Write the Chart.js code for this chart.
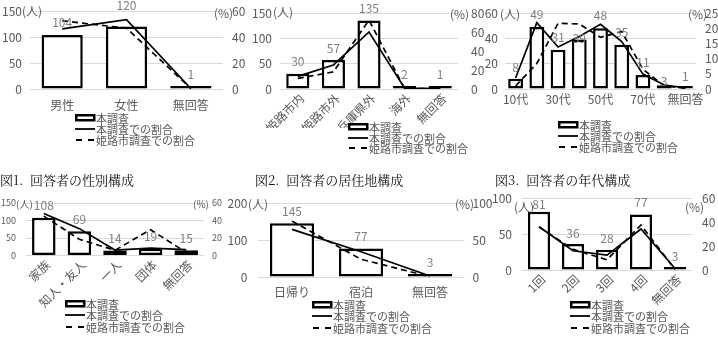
<!DOCTYPE html>
<html lang="ja">
<head>
<meta charset="utf-8">
<script src="https://cdn.jsdelivr.net/npm/chart.js@4.4.1/dist/chart.umd.min.js"></script>
<style>
  html, body { margin: 0; padding: 0; background: #fff; }
  body { width: 718px; height: 339px; position: relative; overflow: hidden;
         font-family: "Noto Sans CJK JP", sans-serif; color: #595959; }
  .box { position: absolute; }
  .box canvas { display: block; }
  .unit { position: absolute; color: #595959; white-space: nowrap; transform: translateY(-50%); }
  .cap { position: absolute; font-family: "Noto Serif CJK JP", "Noto Sans CJK JP", serif;
         font-size: 13px; line-height: 16px; color: #111; white-space: pre; }
  .legend { position: absolute; font-size: 11px; color: #595959; }
  .legend div { display: flex; align-items: center; white-space: nowrap; }
  .legend svg { flex: none; }
</style>
</head>
<body>
<script>
// ─── データ ─────────────────────────────────────────
// 図1 性別
const sexLabels  = ['男性', '女性', '無回答'];
const sexCounts  = [104, 120, 1];
const sexShare   = [46.2, 53.3, 0.4];
const sexCity    = [52.5, 46.8, 0.4];

// 居住地
const homeLabels = ['姫路市内', '姫路市外', '兵庫県外', '海外', '無回答'];
const homeCounts = [30, 57, 135, 2, 1];
const homeShare  = [13.3, 25.3, 60.0, 0.9, 0.4];
const homeCity   = [11.2, 18.0, 72.5, 0.5, 0.3];

// 年代
const ageLabels  = ['10代', '20代', '30代', '40代', '50代', '60代', '70代', '80代', '無回答'];
const ageCounts  = [8, 49, 31, 39, 48, 35, 11, 3, 1];
const ageShare   = [3.6, 21.8, 13.8, 17.3, 21.3, 15.6, 4.9, 1.3, 0.4];
const ageCity    = [1.0, 8.4, 21.6, 21.4, 17.0, 18.9, 6.5, 1.0, 0.3];

// 同行者
const compLabels = ['家族', '知人・友人', '一人', '団体', '無回答'];
const compCounts = [108, 69, 14, 19, 15];
const compShare  = [48.0, 30.7, 6.2, 8.4, 6.7];
const compCity   = [45.0, 18.5, 6.0, 29.5, 3.5];

// 日帰り・宿泊
const stayLabels = ['日帰り', '宿泊', '無回答'];
const stayCounts = [145, 77, 3];
const stayShare  = [64.4, 34.2, 1.3];
const stayCity   = [75.5, 24.0, 0.5];

// 来訪回数
const visitLabels = ['1回', '2回', '3回', '4回', '無回答'];
const visitCounts = [81, 36, 28, 77, 3];
const visitShare  = [36.0, 16.0, 12.4, 34.2, 1.3];
const visitCity   = [36.0, 17.2, 8.5, 37.5, 0.5];

const captions = [
  { text: '図1.  回答者の性別構成',   x: 0,   y: 172 },
  { text: '図2.  回答者の居住地構成', x: 255, y: 172 },
  { text: '図3.  回答者の年代構成',   x: 495, y: 172 },
];

const FONT = '"Noto Sans CJK JP", sans-serif';
const TEXT = '#595959';
const CLEAR = 'rgba(0,0,0,0)';
Chart.defaults.font.family = FONT;

// 棒の上に人数を描く (lift: 棒の上端からの距離、既定 12px)
const valueLabels = {
  id: 'valueLabels',
  afterDatasetsDraw(chart, args, opts) {
    const ctx  = chart.ctx;
    const meta = chart.getDatasetMeta(2);
    const vals = chart.data.datasets[2].data;
    const lift = opts.lift || [];
    ctx.save();
    ctx.font = '12px ' + FONT;
    ctx.fillStyle = '#7f7f7f';
    ctx.textAlign = 'center';
    ctx.textBaseline = 'middle';
    meta.data.forEach((bar, i) => ctx.fillText(String(vals[i]), bar.x, bar.y - (lift[i] ?? 12)));
    ctx.restore();
  },
};

function addLegend(x, y, rowH) {
  const el = document.createElement('div');
  el.className = 'legend';
  el.style.left = x + 'px';
  el.style.top = y + 'px';
  const rows = [
    ['<rect x="1.25" y="1.25" width="18" height="5" fill="#fff" stroke="#000" stroke-width="2.5"/>', '本調査'],
    ['<line x1="0" y1="4" x2="20" y2="4" stroke="#000" stroke-width="1.8"/>', '本調査での割合'],
    ['<line x1="1" y1="4" x2="20" y2="4" stroke="#000" stroke-width="1.8" stroke-dasharray="6,6"/>', '姫路市調査での割合'],
  ];
  el.innerHTML = rows.map(([icon, txt]) =>
    `<div style="height:${rowH}px"><svg width="21" height="8">${icon}</svg>${txt}</div>`
  ).join('');
  document.body.appendChild(el);
}

function addUnit(text, x, y, size) {
  const s = document.createElement('span');
  s.className = 'unit';
  s.textContent = text;
  s.style.left = x + 'px';
  s.style.top = y + 'px';
  s.style.fontSize = size + 'px';
  document.body.appendChild(s);
}

function makePanel(p) {
  const box = document.createElement('div');
  box.className = 'box';
  box.style.left = p.box[0] + 'px';
  box.style.top  = p.box[1] + 'px';
  const canvas = document.createElement('canvas');
  canvas.width  = p.box[2];
  canvas.height = p.box[3];
  box.appendChild(canvas);
  document.body.appendChild(box);

  const tickFont = { size: p.tickSize || 12 };
  const lineBase = { type: 'line', yAxisID: 'y1', borderColor: '#000', borderWidth: 1.7,
                     pointRadius: 0, tension: 0, fill: false, order: 1 };

  new Chart(canvas, {
    type: 'bar',
    data: {
      labels: p.labels,
      datasets: [
        { ...lineBase, label: '本調査での割合', data: p.share },
        { ...lineBase, label: '姫路市調査での割合', data: p.city, borderDash: [6, 4] },
        {
          type: 'bar', label: '本調査', data: p.counts, yAxisID: 'y',
          backgroundColor: '#fff', borderColor: '#000', borderWidth: 2.5,
          borderSkipped: false, minBarLength: 3,
          categoryPercentage: 1, barPercentage: p.barPct, order: 2,
        },
      ],
    },
    options: {
      responsive: false,
      animation: false,
      events: [],
      layout: { padding: { top: p.pad, left: 0, right: 0, bottom: 0 } },
      plugins: {
        legend: { display: false },
        tooltip: { enabled: false },
        valueLabels: { lift: p.lift },
      },
      scales: {
        x: {
          grid: { display: false, drawTicks: false },
          border: { display: false },
          ticks: {
            color: TEXT, font: { size: p.catSize || 12 }, padding: p.xPad,
            labelOffset: p.rot ? 4 : 0,
            autoSkip: false, maxRotation: p.rot, minRotation: p.rot,
            callback: function (v, i) {
              if (p.every && i % p.every) return '';
              return this.getLabelForValue(v);
            },
          },
          afterFit: s => { s.height = p.xh; },
        },
        // 目盛ラベルとの間隔は tickLength で取る (padding は描画領域を押し下げるため 0)
        y: {
          position: 'left', min: 0, max: p.yMax,
          ticks: { stepSize: p.yStep, padding: 0, color: TEXT, font: tickFont, autoSkip: false },
          grid: { color: '#d9d9d9', lineWidth: 1, drawTicks: true, tickLength: p.lPad, tickColor: CLEAR },
          border: { display: false },
          afterFit: s => { s.width = p.la; },
        },
        y1: {
          position: 'right', min: 0, max: p.rMax,
          ticks: { stepSize: p.rStep, padding: 0, color: TEXT, font: tickFont, autoSkip: false },
          grid: { color: CLEAR, drawOnChartArea: false, drawTicks: true, tickLength: p.rPad, tickColor: CLEAR },
          border: { display: false },
          afterFit: s => { s.width = p.ra; },
        },
      },
    },
    plugins: [valueLabels],
  });

  addUnit('(人)', p.unitL[0], p.unitL[1], p.unitSize || 12);
  addUnit('(%)', p.unitR[0], p.unitR[1], p.unitSize || 12);
  addLegend(p.legend[0], p.legend[1], p.legend[2]);
}

// ─── 6つのグラフ ───────────────────────────────────
makePanel({
  labels: sexLabels, counts: sexCounts, share: sexShare, city: sexCity,
  box: [0, 0, 245, 115], la: 30, ra: 22, pad: 11, xh: 26,
  yMax: 150, yStep: 50, rMax: 60, rStep: 20, lPad: 8, rPad: 9, xPad: 9, rot: 0,
  barPct: 0.64, lift: [12, 21, 12],
  unitL: [22, 10], unitR: [214, 12], legend: [75, 112, 11],
});

makePanel({
  labels: homeLabels, counts: homeCounts, share: homeShare, city: homeCity,
  box: [240, 0, 250, 128], la: 40, ra: 32, pad: 13, xh: 39,
  yMax: 150, yStep: 50, rMax: 80, rStep: 20, lPad: 8, rPad: 13, xPad: 2, rot: 45,
  barPct: 0.65, unitL: [273, 11], unitR: [450, 13], legend: [348, 122, 10.5],
});

makePanel({
  labels: ageLabels, counts: ageCounts, share: ageShare, city: ageCity,
  box: [478, 0, 240, 110], la: 27, ra: 22, pad: 13, xh: 21,
  yMax: 60, yStep: 20, rMax: 25, rStep: 5, lPad: 7, rPad: 9, xPad: 3, rot: 0, every: 2,
  barPct: 0.7, lift: [11, 12, 12, 1.5, 13, 12, 13, 4, 10],
  unitL: [500, 13], unitR: [688, 13], legend: [558, 119.5, 11],
});

makePanel({
  labels: compLabels, counts: compCounts, share: compShare, city: compCity,
  box: [0, 190, 235, 120], la: 26, ra: 31, pad: 13, xh: 54.5,
  yMax: 150, yStep: 50, rMax: 60, rStep: 20, lPad: 10, rPad: 8, xPad: 2, rot: 45,
  tickSize: 9, unitSize: 10,
  barPct: 0.66, unitL: [16, 203], unitR: [193, 203], legend: [65, 298, 11.5],
});

makePanel({
  labels: stayLabels, counts: stayCounts, share: stayShare, city: stayCity,
  box: [225, 190, 275, 115], la: 32.5, ra: 35.5, pad: 13, xh: 28,
  yMax: 200, yStep: 100, rMax: 100, rStep: 50, lPad: 10, rPad: 8, xPad: 8, rot: 0,
  barPct: 0.64, unitL: [248, 203], unitR: [455, 203], legend: [312, 299, 11.5],
});

makePanel({
  labels: visitLabels, counts: visitCounts, share: visitShare, city: visitCity,
  box: [480, 185, 238, 125], la: 42, ra: 26, pad: 13, xh: 40,
  yMax: 100, yStep: 50, rMax: 60, rStep: 20, lPad: 10, rPad: 10, xPad: 2, rot: 45,
  barPct: 0.65, lift: [7, 11, 11, 12, 11],
  unitL: [514, 206], unitR: [685, 206], legend: [570, 299, 11.5],
});

captions.forEach(c => {
  const d = document.createElement('div');
  d.className = 'cap';
  d.textContent = c.text;
  d.style.left = c.x + 'px';
  d.style.top = c.y + 'px';
  document.body.appendChild(d);
});
</script>
</body>
</html>
